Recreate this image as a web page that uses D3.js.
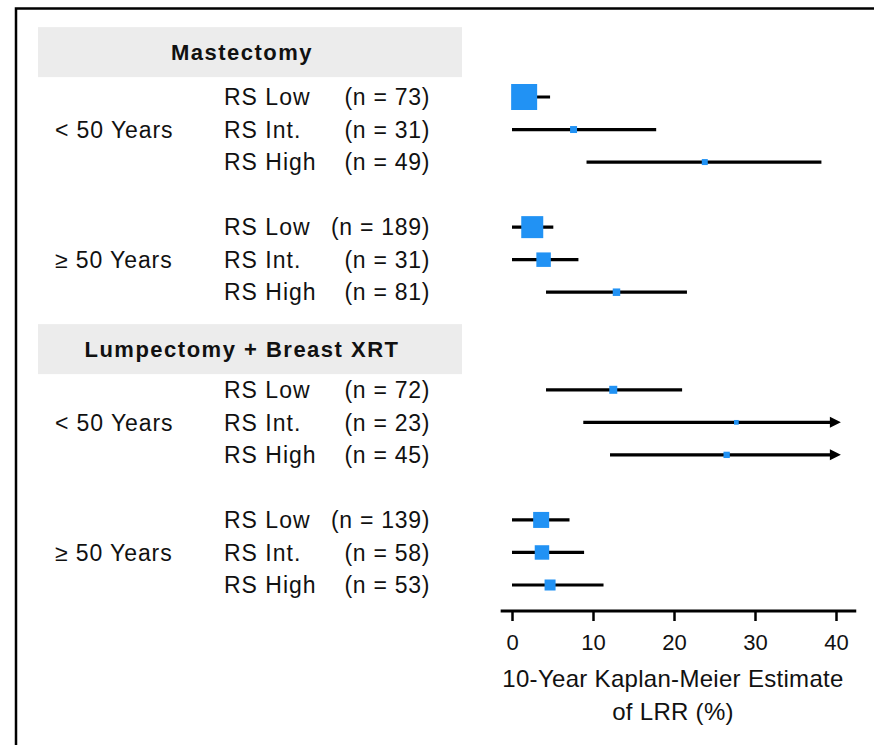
<!DOCTYPE html>
<html>
<head>
<meta charset="utf-8">
<script src="https://cdn.jsdelivr.net/npm/d3@7"></script>
<style>
  html, body { margin: 0; padding: 0; background: #fff; }
  svg { display: block; font-family: "Liberation Sans", Arial, Helvetica, sans-serif; }
</style>
</head>
<body>
<svg id="chart" width="874" height="745"></svg>
<script>
// ---------------- Data ----------------
const sections = ["Mastectomy", "Lumpectomy + Breast XRT"];
const ageGroups = ["< 50 Years", "\u2265 50 Years", "< 50 Years", "\u2265 50 Years"];
const riskGroups = ["RS Low", "RS Int.", "RS High", "RS Low", "RS Int.", "RS High",
                    "RS Low", "RS Int.", "RS High", "RS Low", "RS Int.", "RS High"];
const nValues   = [73, 31, 49, 189, 31, 81, 72, 23, 45, 139, 58, 53];
const estimates = [1.5, 7.6, 23.8, 2.5, 3.9, 12.9, 12.5, 27.7, 26.5, 3.6, 3.7, 4.7];
const lowerCI   = [0, 0, 9.2, 0, 0, 4.2, 4.2, 8.8, 12.1, 0, 0, 0];
const upperCI   = [4.7, 17.8, 38.2, 5.1, 8.2, 21.6, 21.0, 50, 50, 7.1, 8.9, 11.3];
const weights   = [100, 7.2, 5.3, 71.6, 31, 8.3, 9.5, 3.3, 5.9, 37.9, 31, 17.9];
const xTicks    = [0, 10, 20, 30, 40];
const xTitle    = ["10-Year Kaplan-Meier Estimate", "of LRR (%)"];

// ---------------- Layout ----------------
const rowSlots = [0, 1, 2, 4, 5, 6, 9, 10, 11, 13, 14, 15];
const sectionSlots = [-1.38, 7.75];
const ageSlots = [1, 5, 10, 14];

const svg = d3.select("#chart");
const x = d3.scaleLinear().domain([0, 40]).range([512, 836]);
const y = d3.scaleLinear().domain([0, 15]).range([97, 585]);
const size = d3.scaleSqrt().domain([0, 100]).range([0, 26]);
const xMax = 40.6;

// frame
svg.append("path")
  .attr("d", "M16,760 L16,8.5 L880,8.5")
  .attr("fill", "none").attr("stroke", "#000").attr("stroke-width", 2.5);

// section headers
sections.forEach((s, i) => {
  const cy = y(sectionSlots[i]);
  svg.append("rect")
    .attr("x", 38).attr("y", cy - 25).attr("width", 424).attr("height", 50)
    .attr("fill", "#ececec");
  svg.append("text")
    .attr("x", 242).attr("y", cy).attr("dy", "0.36em")
    .attr("text-anchor", "middle")
    .attr("font-size", 22).attr("font-weight", "bold")
    .attr("letter-spacing", "1.5px")
    .attr("fill", "#111")
    .text(s);
});

// age group labels
ageGroups.forEach((a, i) => {
  svg.append("text")
    .attr("x", 55).attr("y", y(ageSlots[i])).attr("dy", "0.36em")
    .attr("font-size", 23).attr("letter-spacing", "0.9px")
    .attr("fill", "#111")
    .text(a);
});

// rows
const rows = riskGroups.map((r, i) => ({
  label: r, n: nValues[i], est: estimates[i], lo: lowerCI[i], hi: upperCI[i],
  w: weights[i], slot: rowSlots[i]
}));

const g = svg.append("g");
g.selectAll("text.rs").data(rows).join("text")
  .attr("class", "rs")
  .attr("x", 224).attr("y", d => y(d.slot)).attr("dy", "0.36em")
  .attr("font-size", 23).attr("letter-spacing", "1px").attr("fill", "#111")
  .text(d => d.label);

g.selectAll("text.n").data(rows).join("text")
  .attr("class", "n")
  .attr("x", 430).attr("y", d => y(d.slot)).attr("dy", "0.36em")
  .attr("text-anchor", "end")
  .attr("font-size", 23).attr("letter-spacing", "0.7px").attr("fill", "#111")
  .text(d => `(n = ${d.n})`);

// CI lines
g.selectAll("line.ci").data(rows).join("line")
  .attr("class", "ci")
  .attr("x1", d => x(d.lo))
  .attr("x2", d => d.hi > 40 ? x(xMax) - 8 : x(d.hi))
  .attr("y1", d => y(d.slot)).attr("y2", d => y(d.slot))
  .attr("stroke", "#000").attr("stroke-width", 3.2);

// arrows for open-ended upper limits
g.selectAll("path.arrow").data(rows.filter(d => d.hi > 40)).join("path")
  .attr("class", "arrow")
  .attr("d", d => {
    const tx = x(xMax), cy = y(d.slot);
    return `M${tx},${cy} L${tx - 11},${cy - 5.5} L${tx - 11},${cy + 5.5} Z`;
  })
  .attr("fill", "#000");

// squares
g.selectAll("rect.pt").data(rows).join("rect")
  .attr("class", "pt")
  .attr("x", d => x(d.est) - size(d.w) / 2)
  .attr("y", d => y(d.slot) - size(d.w) / 2)
  .attr("width", d => size(d.w))
  .attr("height", d => size(d.w))
  .attr("fill", "#2192f4");

// x axis
const axisY = 611;
const axis = svg.append("g")
  .attr("transform", `translate(0,${axisY})`)
  .call(d3.axisBottom(x).tickValues(xTicks).tickSize(10).tickSizeOuter(0).tickPadding(13));
axis.select(".domain").remove();
axis.selectAll(".tick line").attr("stroke", "#000").attr("stroke-width", 2.5);
axis.selectAll(".tick text")
  .attr("font-size", 22).attr("fill", "#111")
  .attr("font-family", "'Liberation Sans', Arial, sans-serif");
svg.append("line")
  .attr("x1", x(-1.4)).attr("x2", x(42.5))
  .attr("y1", axisY).attr("y2", axisY)
  .attr("stroke", "#000").attr("stroke-width", 3);

// axis title
xTitle.forEach((t, i) => {
  svg.append("text")
    .attr("x", 673).attr("y", 687 + i * 33)
    .attr("text-anchor", "middle")
    .attr("font-size", 24).attr("letter-spacing", "0.3px").attr("fill", "#111")
    .text(t);
});
</script>
</body>
</html>
